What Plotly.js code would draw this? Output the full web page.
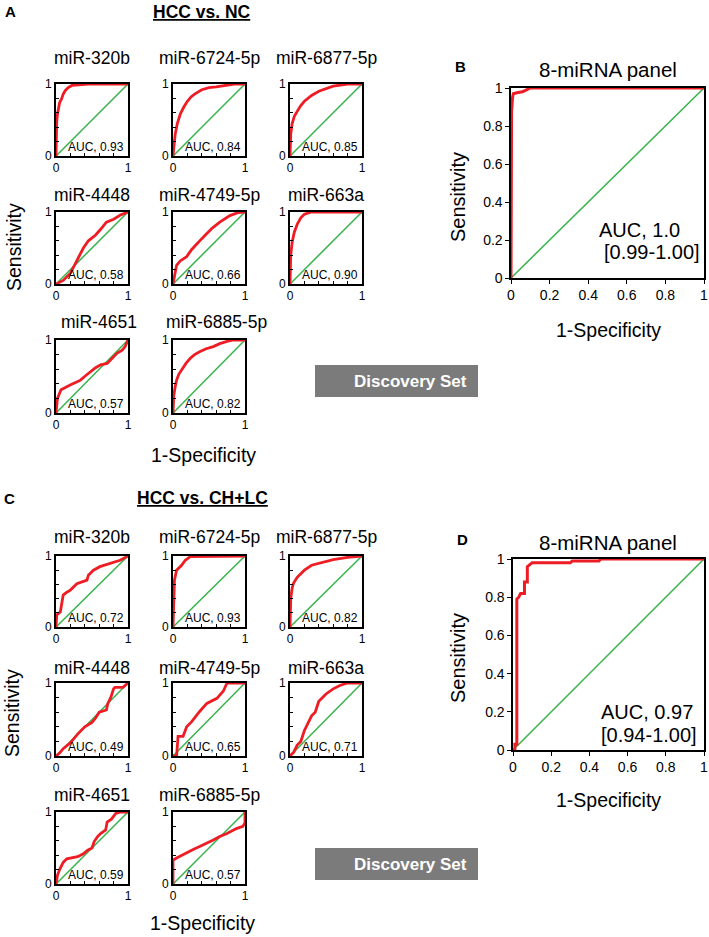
<!DOCTYPE html>
<html>
<head>
<meta charset="utf-8">
<script src="https://cdn.plot.ly/plotly-3.0.1.min.js"></script>
<style>
  html, body { margin: 0; padding: 0; background: #fff; }
  #chart { width: 709px; height: 937px; }
</style>
</head>
<body>
<div id="chart"></div>
<script>
// ---- data ----
const mirnas = ['miR-320b', 'miR-6724-5p', 'miR-6877-5p', 'miR-4448', 'miR-4749-5p', 'miR-663a', 'miR-4651', 'miR-6885-5p'];
const aucNC = ['0.93', '0.84', '0.85', '0.58', '0.66', '0.90', '0.57', '0.82'];
const aucCHLC = ['0.72', '0.93', '0.82', '0.49', '0.65', '0.71', '0.59', '0.57'];

// HCC vs. NC, one curve per miRNA (1-specificity, sensitivity)
const fprNC = [
  [0, 0, 0.01, 0.02, 0.03, 0.05, 0.08, 0.1, 0.13, 0.17, 0.22, 0.3, 0.45, 1],
  [0, 0.01, 0.03, 0.06, 0.1, 0.15, 0.2, 0.25, 0.3, 0.4, 0.5, 0.6, 0.7, 0.85, 1],
  [0, 0.01, 0.03, 0.06, 0.1, 0.15, 0.2, 0.3, 0.4, 0.5, 0.6, 0.8, 1],
  [0, 0.1, 0.2, 0.25, 0.3, 0.38, 0.45, 0.55, 0.62, 0.7, 0.8, 0.9, 1],
  [0, 0.02, 0.05, 0.1, 0.19, 0.26, 0.33, 0.4, 0.47, 0.55, 0.65, 0.72, 0.79, 0.9, 1],
  [0, 0, 0.01, 0.03, 0.06, 0.1, 0.15, 0.2, 0.3, 1],
  [0, 0.02, 0.07, 0.14, 0.21, 0.28, 0.34, 0.41, 0.48, 0.55, 0.62, 0.71, 0.78, 0.85, 0.92, 0.96, 1],
  [0, 0.01, 0.03, 0.05, 0.08, 0.12, 0.18, 0.24, 0.3, 0.37, 0.46, 0.56, 0.65, 0.75, 0.84, 1]
];
const tprNC = [
  [0, 0.3, 0.48, 0.58, 0.65, 0.74, 0.8, 0.86, 0.91, 0.95, 0.98, 0.99, 1, 1],
  [0, 0.15, 0.3, 0.45, 0.58, 0.68, 0.76, 0.82, 0.86, 0.92, 0.95, 0.96, 0.98, 1, 1],
  [0, 0.3, 0.45, 0.55, 0.62, 0.7, 0.76, 0.84, 0.9, 0.94, 0.97, 1, 1],
  [0, 0.05, 0.15, 0.25, 0.35, 0.5, 0.6, 0.68, 0.76, 0.86, 0.9, 0.96, 1],
  [0, 0.12, 0.26, 0.32, 0.38, 0.48, 0.56, 0.63, 0.7, 0.78, 0.86, 0.91, 0.95, 0.99, 1],
  [0, 0.2, 0.4, 0.58, 0.72, 0.83, 0.92, 0.97, 1, 1],
  [0, 0.2, 0.32, 0.36, 0.39, 0.42, 0.45, 0.51, 0.57, 0.62, 0.66, 0.68, 0.75, 0.82, 0.86, 0.91, 1],
  [0, 0.23, 0.36, 0.45, 0.53, 0.59, 0.68, 0.75, 0.8, 0.84, 0.88, 0.91, 0.95, 0.98, 1, 1]
];

// HCC vs. CH+LC
const fprCHLC = [
  [0, 0.01, 0.06, 0.1, 0.15, 0.2, 0.29, 0.36, 0.43, 0.45, 0.52, 0.61, 0.75, 0.89, 1],
  [0, 0.01, 0.02, 0.05, 0.08, 0.12, 0.17, 0.24, 1],
  [0, 0.01, 0.03, 0.05, 0.1, 0.15, 0.2, 0.3, 0.4, 0.5, 0.6, 0.8, 1],
  [0, 0.05, 0.1, 0.2, 0.3, 0.4, 0.5, 0.55, 0.6, 0.65, 0.7, 0.72, 0.76, 0.8, 0.82, 0.93, 1],
  [0, 0.05, 0.07, 0.14, 0.19, 0.26, 0.37, 0.47, 0.61, 0.7, 0.75, 1],
  [0, 0.05, 0.1, 0.15, 0.2, 0.25, 0.3, 0.35, 0.4, 0.5, 0.6, 0.7, 0.8, 1],
  [0, 0.02, 0.05, 0.1, 0.15, 0.21, 0.3, 0.38, 0.44, 0.5, 0.53, 0.58, 0.62, 0.69, 0.71, 0.77, 0.83, 0.9, 1],
  [0, 0, 0.05, 0.12, 0.19, 0.28, 0.37, 0.46, 0.56, 0.65, 0.75, 0.88, 0.97, 1, 1]
];
const tprCHLC = [
  [0, 0.17, 0.21, 0.45, 0.49, 0.52, 0.61, 0.64, 0.66, 0.73, 0.8, 0.85, 0.9, 0.94, 1],
  [0, 0.28, 0.66, 0.8, 0.83, 0.87, 0.94, 0.99, 1],
  [0, 0.4, 0.55, 0.62, 0.7, 0.75, 0.8, 0.87, 0.9, 0.92, 0.95, 0.98, 1],
  [0, 0.04, 0.1, 0.18, 0.3, 0.4, 0.46, 0.52, 0.6, 0.62, 0.63, 0.72, 0.8, 0.92, 0.94, 0.94, 1],
  [0, 0, 0.27, 0.27, 0.4, 0.47, 0.61, 0.72, 0.79, 0.89, 1, 1],
  [0, 0.05, 0.15, 0.2, 0.35, 0.45, 0.55, 0.6, 0.75, 0.85, 0.92, 0.97, 1, 1],
  [0, 0.12, 0.2, 0.3, 0.35, 0.36, 0.38, 0.42, 0.47, 0.5, 0.59, 0.66, 0.7, 0.75, 0.86, 0.9, 0.98, 1, 1],
  [0, 0.33, 0.36, 0.4, 0.43, 0.48, 0.52, 0.56, 0.61, 0.66, 0.7, 0.77, 0.8, 0.85, 1]
];

// 8-miRNA panel curves
const fprPanelB = [0, 0, 0.003, 0.008, 0.012, 0.03, 0.06, 0.08, 0.1, 1];
const tprPanelB = [0, 0.75, 0.88, 0.95, 0.97, 0.975, 0.98, 0.99, 1, 1];
const fprPanelD = [0, 0.01, 0.01, 0.02, 0.02, 0.03, 0.04, 0.06, 0.06, 0.075, 0.075, 0.09, 0.1, 0.3, 0.31, 0.45, 0.46, 1];
const tprPanelD = [0, 0, 0.03, 0.03, 0.79, 0.8, 0.82, 0.82, 0.88, 0.88, 0.96, 0.97, 0.98, 0.98, 0.99, 0.99, 1, 1];

const chanceLine = [0, 1];
const bigTicks = [0, 0.2, 0.4, 0.6, 0.8, 1];

// ---- layout helpers ----
const W = 709, H = 937;
const FONT = 'Liberation Sans, Arial, sans-serif';
const RED = '#ee1c24', GREEN = '#36b34a';

const data = [];
const layout = {
  width: W, height: H,
  margin: { l: 0, r: 0, t: 0, b: 0 },
  paper_bgcolor: '#ffffff',
  plot_bgcolor: '#ffffff',
  showlegend: false,
  font: { family: FONT, color: '#000' },
  annotations: [],
  shapes: []
};

function note(text, x, y, size, extra) {
  layout.annotations.push(Object.assign({
    text: text, x: x / W, y: 1 - y / H, xref: 'paper', yref: 'paper',
    showarrow: false, font: { family: FONT, size: size, color: '#000' },
    xanchor: 'center', yanchor: 'middle'
  }, extra || {}));
}

let k = 0;
function addPlot(left, right, top, bottom, fpr, tpr, big) {
  k += 1;
  const xa = k === 1 ? 'x' : 'x' + k;
  const ya = k === 1 ? 'y' : 'y' + k;
  data.push({ x: chanceLine, y: chanceLine, type: 'scatter', mode: 'lines',
    line: { color: GREEN, width: 1.5 }, xaxis: xa, yaxis: ya, hoverinfo: 'skip', cliponaxis: false });
  data.push({ x: fpr, y: tpr, type: 'scatter', mode: 'lines',
    line: { color: RED, width: big ? 3 : 2.8 }, xaxis: xa, yaxis: ya, cliponaxis: false });

  const common = {
    range: [0, 1], showgrid: false, zeroline: false,
    showline: true, linecolor: '#000', linewidth: big ? 1.6 : 2, mirror: true,
    tickvals: bigTicks, tickcolor: '#000', fixedrange: true
  };
  const tickFont = { family: FONT, size: big ? 14 : 12, color: '#000' };
  const smallText = ['0', '', '', '', '', '1'];
  const xkey = k === 1 ? 'xaxis' : 'xaxis' + k;
  const ykey = k === 1 ? 'yaxis' : 'yaxis' + k;
  layout[xkey] = Object.assign({}, common, {
    domain: [left / W, right / W], anchor: ya,
    ticks: big ? 'outside' : 'inside', ticklen: big ? 4 : 3,
    ticktext: big ? undefined : smallText, tickfont: tickFont
  });
  layout[ykey] = Object.assign({}, common, {
    domain: [1 - bottom / H, 1 - top / H], anchor: xa,
    ticks: big ? 'outside' : 'inside', ticklen: big ? 4 : 3,
    ticktext: big ? undefined : smallText, tickfont: tickFont
  });
  return xa;
}

// small-multiple grid positions (px)
const colX = [[56, 128], [173, 245], [290, 362]];
const rowsA = [[84, 156], [212, 284], [340, 413]];
const titleA = [58, 195, 322];
const rowsC = [[556, 627], [683, 756], [812, 884]];
const titleC = [537, 668, 795];

function smallGrid(rows, titles, fprs, tprs, aucs, lastRowShift) {
  for (let i = 0; i < mirnas.length; i++) {
    const r = Math.floor(i / 3), c = i % 3;
    const [l, rr] = colX[c];
    const [t, b] = rows[r];
    const xa = addPlot(l, rr, t, b, fprs[i], tprs[i], false);
    const shift = r === 2 ? lastRowShift : 0;
    note(mirnas[i], (l + rr) / 2 + shift, titles[r], 17.5);
    layout.annotations.push({
      text: 'AUC, ' + aucs[i], xref: xa + ' domain', yref: xa.replace('x', 'y') + ' domain',
      x: 0.97, y: 0.0, xanchor: 'right', yanchor: 'bottom', showarrow: false,
      font: { family: FONT, size: 12, color: '#000' }
    });
  }
}

// Panel A
smallGrid(rowsA, titleA, fprNC, tprNC, aucNC, 7);
note('<b>A</b>', 10, 11, 15);
note('<b><u>HCC vs. NC</u></b>', 202, 12, 17.5);
note('Sensitivity', 14, 247, 19.5, { textangle: -90 });
note('1-Specificity', 203, 455, 19.5);

// Panel B
addPlot(511, 704, 88, 278, fprPanelB, tprPanelB, true);
note('<b>B</b>', 460, 67, 15);
note('8-miRNA panel', 608, 69, 20.5);
note('Sensitivity', 458, 197, 20, { textangle: -90 });
note('1-Specificity', 608, 330, 19.5);
note('AUC, 1.0', 597, 230, 20, { xanchor: 'left' });
note('[0.99-1.00]', 602, 252, 20, { xanchor: 'left' });

// Panel C
smallGrid(rowsC, titleC, fprCHLC, tprCHLC, aucCHLC, 0);
note('<b>C</b>', 9, 498, 15);
note('<b><u>HCC vs. CH+LC</u></b>', 202, 498, 17.5);
note('Sensitivity', 12, 713, 19.5, { textangle: -90 });
note('1-Specificity', 202, 923, 19.5);

// Panel D
addPlot(513, 704, 559, 750, fprPanelD, tprPanelD, true);
note('<b>D</b>', 462, 539, 15);
note('8-miRNA panel', 608, 542, 20.5);
note('Sensitivity', 458, 658, 20, { textangle: -90 });
note('1-Specificity', 608, 800, 19.5);
note('AUC, 0.97', 599, 712, 20, { xanchor: 'left' });
note('[0.94-1.00]', 599, 735, 20, { xanchor: 'left' });

// "Discovery Set" banners
[[365, 397], [848, 880]].forEach(([t, b]) => {
  layout.shapes.push({ type: 'rect', xref: 'paper', yref: 'paper',
    x0: 315 / W, x1: 478 / W, y0: 1 - b / H, y1: 1 - t / H,
    fillcolor: '#7b7b7b', line: { width: 0 } });
  layout.annotations.push({ text: '<b>Discovery Set</b>', xref: 'paper', yref: 'paper',
    x: 410 / W, y: 1 - ((t + b) / 2) / H, xanchor: 'center', yanchor: 'middle', showarrow: false,
    font: { family: FONT, size: 17, color: '#ffffff' } });
});

Plotly.newPlot('chart', data, layout, { displayModeBar: false, staticPlot: true });
</script>
</body>
</html>
